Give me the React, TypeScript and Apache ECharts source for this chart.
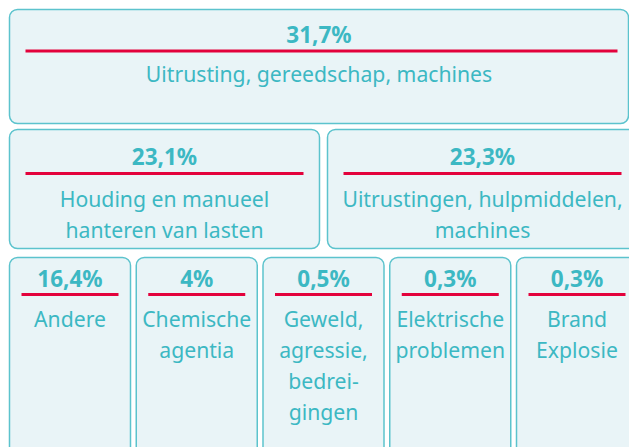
import React, { useEffect, useRef } from "react";
import * as echarts from "echarts";

const categories = [
  "Uitrusting, gereedschap, machines",
  "Houding en manueel\nhanteren van lasten",
  "Uitrustingen, hulpmiddelen,\nmachines",
  "Andere",
  "Chemische\nagentia",
  "Geweld,\nagressie,\nbedrei-\ngingen",
  "Elektrische\nproblemen",
  "Brand\nExplosie",
];
const values = [31.7, 23.1, 23.3, 16.4, 4, 0.5, 0.3, 0.3];
const rowOf = [0, 1, 1, 2, 2, 2, 2, 2];

const FILL = "#e9f4f7";
const STROKE = "#5cc3cd";
const TEXT = "#3cb8c3";
const RED = "#e3023c";
const FONT = "'Noto Sans', sans-serif";

const rowSpecs = [
  { top: 9.5, bottom: 123.5, left: 9.5, width: 619, gap: 0, insetL: 16, insetR: 11, pctY: 25, lineY: 41.5, labelY: 64 },
  { top: 129.5, bottom: 248.5, left: 9.5, width: 628, gap: 8, insetL: 16, insetR: 16, pctY: 26.5, lineY: 44, labelY: 68.5 },
  { top: 257.5, bottom: 480, left: 9.5, width: 628, gap: 5.75, insetL: 12, insetR: 12, pctY: 20.5, lineY: 37, labelY: 61 },
];
const LINE_H = 31;

function fmt(v: number) {
  return String(v).replace(".", ",") + "%";
}

export default function App() {
  const ref = useRef<HTMLDivElement>(null);
  useEffect(() => {
    if (!ref.current) return;
    const chart = echarts.init(ref.current, undefined, { renderer: "svg" });
    const renderItem = (params: any, api: any) => {
      const i = params.dataIndex;
      const row = rowOf[i];
      const spec = rowSpecs[row];
      const members = rowOf.map((r, k) => (r === row ? k : -1)).filter((k) => k >= 0);
      const n = members.length;
      const col = members.indexOf(i);
      const w = (spec.width - (n - 1) * spec.gap) / n;
      const x0 = spec.left + col * (w + spec.gap);
      const y0 = spec.top;
      const h = spec.bottom - spec.top;
      const cx = x0 + w / 2;
      const v = api.value(0);
      return {
        type: "group",
        children: [
          {
            type: "rect",
            shape: { x: x0, y: y0, width: w, height: h, r: 8 },
            style: { fill: FILL, stroke: STROKE, lineWidth: 1.5 },
          },
          {
            type: "line",
            shape: { x1: x0 + spec.insetL, y1: y0 + spec.lineY, x2: x0 + w - spec.insetR, y2: y0 + spec.lineY },
            style: { stroke: RED, lineWidth: 3 },
          },
          {
            type: "text",
            x: cx,
            y: y0 + spec.pctY,
            style: {
              text: fmt(v),
              fill: TEXT,
              fontFamily: FONT,
              fontSize: 22.5,
              fontWeight: "bold",
              align: "center",
              verticalAlign: "middle",
            },
          },
          {
            type: "text",
            x: cx,
            y: y0 + spec.labelY - LINE_H / 2,
            style: {
              text: categories[i],
              fill: TEXT,
              fontFamily: FONT,
              fontSize: 21.2,
              lineHeight: LINE_H,
              align: "center",
              verticalAlign: "top",
            },
          },
        ],
      };
    };
    chart.setOption({
      animation: false,
      series: [
        {
          type: "custom",
          coordinateSystem: "none",
          renderItem,
          data: values,
        },
      ],
    });
    return () => chart.dispose();
  }, []);
  return (
    <div
      ref={ref}
      style={{ position: "fixed", left: 0, top: 0, width: 629, height: 447, background: "#fff" }}
    />
  );
}
